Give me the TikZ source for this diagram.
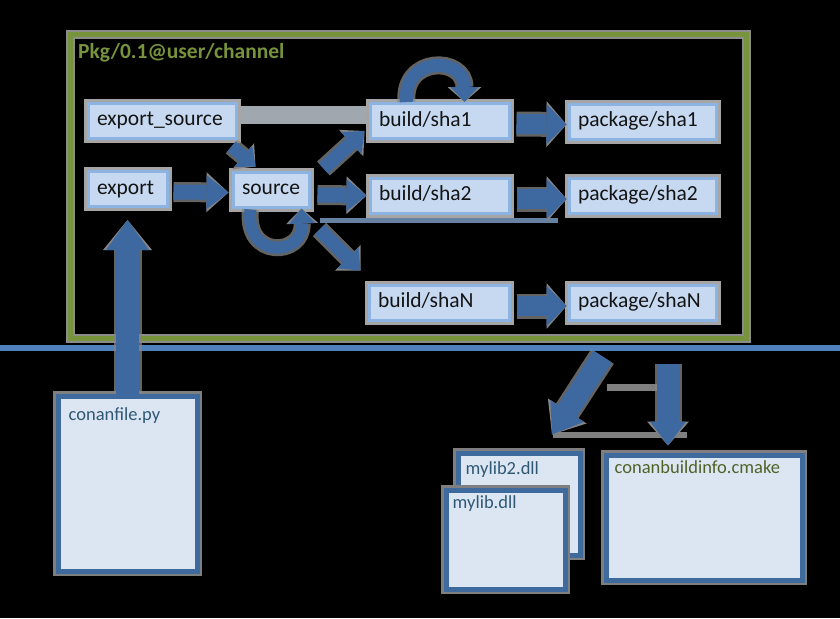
\documentclass[tikz,border=0pt]{standalone}
\usepackage{fontspec}
\setmainfont{Carlito}
\usetikzlibrary{arrows.meta}

\definecolor{framegreen}{HTML}{77933C}
\definecolor{frameshade}{HTML}{8C8C8C}
\definecolor{divider}{HTML}{4F81BD}
\definecolor{arrowblue}{HTML}{3D69A0}
\definecolor{halo}{HTML}{858585}
\definecolor{boxfill}{HTML}{C6D9F1}
\definecolor{boxborder}{HTML}{8DB3E2}
\definecolor{boxshade}{HTML}{A5A5A5}
\definecolor{docfill}{HTML}{DCE6F2}
\definecolor{docborder}{HTML}{3E6A9E}
\definecolor{docshade}{HTML}{7F7F7F}
\definecolor{doctextblue}{HTML}{2F5875}
\definecolor{doctextgreen}{HTML}{4F6228}

\tikzset{
  stagebox/.style={draw=boxborder, line width=3pt, fill=boxfill,
    preaction={draw=boxshade, line width=9pt},
    minimum height=35pt, inner xsep=9pt, inner ysep=0pt,
    text width=#1, align=left, text height=14pt, text depth=4pt,
    font=\fontsize{21.5}{24}\selectfont, text=black!92},
  docbox/.style={draw=docborder, line width=5pt, fill=docfill,
    preaction={draw=docshade, line width=10pt}, inner sep=0pt},
  doctext/.style={font=\fontsize{18.5}{22}\selectfont, inner sep=0pt, anchor=base west},
  % block arrow: shaft width, head width, head length, halo widths
  blockarrow/.style n args={5}{draw=arrowblue, line width=#1,
    -{Triangle[width=#2,length=#3,line width=0pt]},
    preaction={draw=halo, draw opacity=.75, line width=#4,
      -{Triangle[width=#5,length=#3,line width=0pt]}}},
}

\begin{document}
\begin{tikzpicture}[x=1pt,y=-1pt]
\fill[black] (0,0) rectangle (840,618);
\useasboundingbox (0,0) rectangle (840,618);

% package cache frame
\draw[frameshade, line width=9pt] (70.5,35) rectangle (746,338);
\draw[framegreen, line width=5pt] (70.5,35) rectangle (746,338);
\node[anchor=base west, inner sep=0pt, text=framegreen,
  font=\fontsize{21.5}{24}\selectfont\bfseries] (cachelabel) at (78,59) {Pkg/0.1@user/channel};

% shading strips behind the stages
\fill[boxshade!85!boxborder] (238,106) rectangle (370,124);
\fill[arrowblue!60!boxshade] (320,218) rectangle (558,223);

% stages
\node[stagebox=130pt] (expsrc) at (162,120.5) {export\_source};
\node[stagebox=61pt]  (export) at (127.5,189) {export};
\node[stagebox=58pt]  (source) at (271,189.5) {source};
\node[stagebox=121pt] (b1) at (439.5,121) {build/sha1};
\node[stagebox=129pt] (p1) at (642.5,121.5) {package/sha1};
\node[stagebox=121pt] (b2) at (439.5,195.5) {build/sha2};
\node[stagebox=129pt] (p2) at (642.5,195.5) {package/sha2};
\node[stagebox=122pt] (bN) at (439,302.5) {build/shaN};
\node[stagebox=129pt] (pN) at (642.5,302.5) {package/shaN};

% flow between stages
\draw[blockarrow={15pt}{34pt}{22pt}{20pt}{40pt}]
  ([xshift=5pt,yshift=-3pt]export.east) -- ([xshift=-3pt,yshift=-3pt]source.west);
\draw[blockarrow={13pt}{28pt}{16pt}{18pt}{34pt}]
  ([xshift=-6pt,yshift=-7pt]expsrc.south east) -- ([xshift=24pt,yshift=4pt]source.north west);
\draw[blockarrow={14pt}{30pt}{18pt}{19pt}{36pt}]
  ([xshift=13pt,yshift=2pt]source.north east) -- ([xshift=-4pt,yshift=9pt]b1.south west);
\draw[blockarrow={15pt}{32pt}{20pt}{20pt}{38pt}]
  ([xshift=7pt,yshift=-5.5pt]source.east) -- ([xshift=-2pt]b2.west);
\draw[blockarrow={14pt}{30pt}{18pt}{19pt}{36pt}]
  ([xshift=9pt,yshift=-21pt]source.south east) -- ([xshift=-7pt,yshift=13pt]bN.north west);
% source re-run loop
\draw[blockarrow={12pt}{26pt}{15pt}{17pt}{32pt}]
  ([xshift=19pt,yshift=-1pt]source.south west) .. controls +(-6,50) and +(2,48) ..
  ([xshift=-9pt,yshift=0pt]source.south east);
% build re-run loop
\draw[blockarrow={13pt}{28pt}{15pt}{18pt}{34pt}]
  ([xshift=38pt]b1.north west) .. controls +(-4,-46) and +(0,-46) .. ([xshift=96pt]b1.north west);

\draw[blockarrow={20pt}{40pt}{20pt}{25pt}{46pt}]
  ([xshift=6pt,yshift=-3pt]b1.east) -- ([xshift=-1pt,yshift=-3pt]p1.west);
\draw[blockarrow={20pt}{40pt}{20pt}{25pt}{46pt}]
  ([xshift=6pt,yshift=-3.5pt]b2.east) -- ([xshift=-1pt,yshift=-3.5pt]p2.west);
\draw[blockarrow={20pt}{40pt}{20pt}{25pt}{46pt}]
  ([xshift=6pt,yshift=-3.5pt]bN.east) -- ([xshift=-1pt,yshift=-3.5pt]pN.west);

% divider between cache and workspace
\draw[divider, line width=6pt] (0,347.5) -- (840,347.5);

% workspace files
\node[docbox, minimum width=139pt, minimum height=175pt] (conanfile) at (127.5,483.5) {};
\node[doctext, text=doctextblue] (conanfiletext) at ([xshift=13pt,yshift=-27pt]conanfile.north west) {conanfile.py};
\node[docbox, minimum width=122pt, minimum height=102pt] (mylib2) at (519,504) {};
\node[doctext, text=doctextblue] (mylib2text) at ([xshift=10pt,yshift=-24pt]mylib2.north west) {mylib2.dll};
\node[docbox, minimum width=119pt, minimum height=99pt] (mylib) at (505.5,539.5) {};
\node[doctext, text=doctextblue] (mylibtext) at ([xshift=9pt,yshift=-21pt]mylib.north west) {mylib.dll};
\node[docbox, minimum width=196pt, minimum height=125pt] (cbi) at (704,517.5) {};
\node[doctext, text=doctextgreen] (cbitext) at ([xshift=11pt,yshift=-21pt]cbi.north west) {conanbuildinfo.cmake};

% shading between the install arrows
\fill[docshade] (607,384) rectangle (658,391);
\fill[docshade] (553,432) rectangle (687,438);

% recipe export and package install
\draw[blockarrow={23pt}{43pt}{30pt}{28pt}{49pt}]
  (conanfile.north) -- ([yshift=-12pt]export.south);
\draw[blockarrow={22pt}{40pt}{28pt}{27pt}{46pt}]
  ([xshift=-40pt,yshift=-35pt]pN.south) -- ([xshift=33pt,yshift=16pt]mylib2.north);
\draw[blockarrow={22pt}{36pt}{24pt}{27pt}{42pt}]
  ([xshift=25.5pt,yshift=-42pt]pN.south) -- ([xshift=-36pt,yshift=7pt]cbi.north);
\end{tikzpicture}
\end{document}
